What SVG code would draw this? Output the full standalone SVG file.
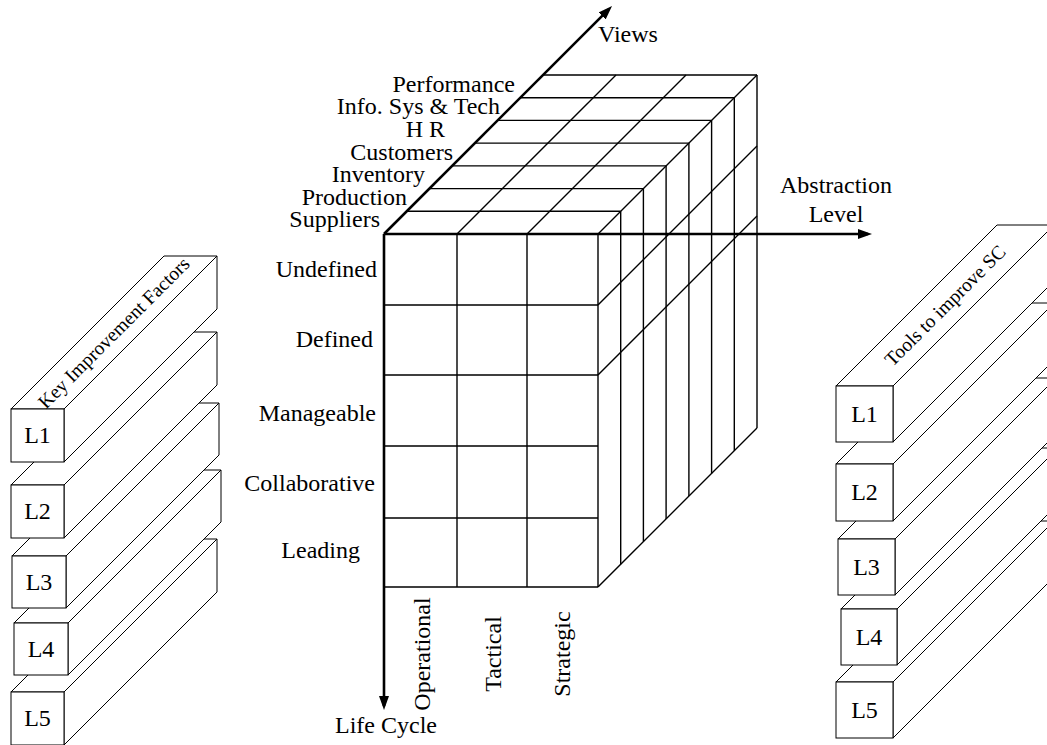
<svg xmlns="http://www.w3.org/2000/svg" width="1047" height="745" viewBox="0 0 1047 745">
  <defs>
    <marker id="arrow" viewBox="0 0 14 10" refX="10" refY="5" markerWidth="14" markerHeight="10" markerUnits="userSpaceOnUse" orient="auto">
      <path d="M0,0 L14,5 L0,10 z" fill="#000"/>
    </marker>
  </defs>
  <style>
    text { font-family: "Liberation Serif", "Times New Roman", serif; font-size: 24px; fill: #000; }
    .grid { stroke: #000; stroke-width: 1.4; fill: none; }
    .axis { stroke: #000; stroke-width: 2.6; fill: none; }
    .face { fill: #fff; stroke: #000; stroke-width: 1; stroke-linejoin: miter; }
    .end { text-anchor: end; }
    .mid { text-anchor: middle; }
    .beamlabel { font-size: 19.5px; }
  </style>

  <rect width="1047" height="745" fill="#fff"/>

  <!-- Left stack: Key Improvement Factors (drawn back to front) -->
  <g id="kif-L5">
    <polygon class="face" points="11,692 164,539 217,539 64,692"/>
    <polygon class="face" points="64,692 217,539 217,592 64,745"/>
    <rect class="face" x="11" y="692" width="53" height="53"/>
    <text class="mid" x="37.5" y="726">L5</text>
  </g>
  <g id="kif-L4">
    <polygon class="face" points="14,623 167,470 221,470 68,623"/>
    <polygon class="face" points="68,623 221,470 221,522 68,675"/>
    <rect class="face" x="14" y="623" width="54" height="52"/>
    <text class="mid" x="41" y="657">L4</text>
  </g>
  <g id="kif-L3">
    <polygon class="face" points="12,556 165,403 219,403 66,556"/>
    <polygon class="face" points="66,556 219,403 219,455 66,608"/>
    <rect class="face" x="12" y="556" width="54" height="52"/>
    <text class="mid" x="39" y="590">L3</text>
  </g>
  <g id="kif-L2">
    <polygon class="face" points="11,485 164,332 217,332 64,485"/>
    <polygon class="face" points="64,485 217,332 217,385 64,538"/>
    <rect class="face" x="11" y="485" width="53" height="53"/>
    <text class="mid" x="37.5" y="519">L2</text>
  </g>
  <g id="kif-L1">
    <polygon class="face" points="11,409 164,256 217,256 64,409"/>
    <polygon class="face" points="64,409 217,256 217,309 64,462"/>
    <rect class="face" x="11" y="409" width="53" height="53"/>
    <text class="mid" x="37.5" y="443">L1</text>
    <text class="mid beamlabel" transform="translate(113.5,332.5) rotate(-45)" y="7">Key Improvement Factors</text>
  </g>

  <!-- Right stack: Tools to improve SC (drawn back to front) -->
  <g id="tools-L5">
    <polygon class="face" points="836,682 997,521 1054,521 893,682"/>
    <polygon class="face" points="893,682 1054,521 1054,577 893,738"/>
    <rect class="face" x="836" y="682" width="57" height="56"/>
    <text class="mid" x="864.5" y="718">L5</text>
  </g>
  <g id="tools-L4">
    <polygon class="face" points="841,609 1002,448 1058,448 897,609"/>
    <polygon class="face" points="897,609 1058,448 1058,504 897,665"/>
    <rect class="face" x="841" y="609" width="56" height="56"/>
    <text class="mid" x="869" y="645">L4</text>
  </g>
  <g id="tools-L3">
    <polygon class="face" points="838,539 999,378 1056,378 895,539"/>
    <polygon class="face" points="895,539 1056,378 1056,434 895,595"/>
    <rect class="face" x="838" y="539" width="57" height="56"/>
    <text class="mid" x="866.5" y="575">L3</text>
  </g>
  <g id="tools-L2">
    <polygon class="face" points="836,464 997,303 1054,303 893,464"/>
    <polygon class="face" points="893,464 1054,303 1054,360 893,521"/>
    <rect class="face" x="836" y="464" width="57" height="57"/>
    <text class="mid" x="864.5" y="500">L2</text>
  </g>
  <g id="tools-L1">
    <polygon class="face" points="836,386 997,225 1054,225 893,386"/>
    <polygon class="face" points="893,386 1054,225 1054,281 893,442"/>
    <rect class="face" x="836" y="386" width="57" height="56"/>
    <text class="mid" x="864.5" y="422">L1</text>
    <text class="mid beamlabel" transform="translate(944.8,305.2) rotate(-45)" y="7">Tools to improve SC</text>
  </g>

  <!-- Cube: front face, top face (views layers) and right face -->
  <g id="cube">
    <!-- front face -->
    <path class="grid" d="M457,234 V587 M527,234 V587 M598,234 V587
                          M384,305 H598 M384,375 H598 M384,446 H598 M384,518 H598 M384,587 H598"/>
    <!-- top face: layer edges -->
    <path class="grid" d="M406.7,211.3 H620.7 M429.4,188.6 H643.4 M452.1,165.9 H666.1
                          M474.9,143.1 H688.9 M497.6,120.4 H711.6 M520.3,97.7 H734.3 M543,75 H757"/>
    <!-- top face: depth lines -->
    <path class="grid" d="M457,234 L616,75 M527,234 L686,75 M598,234 L757,75"/>
    <!-- right face: layer verticals -->
    <path class="grid" d="M620.7,211.3 V564.3 M643.4,188.6 V541.6 M666.1,165.9 V518.9
                          M688.9,143.1 V496.1 M711.6,120.4 V473.4 M734.3,97.7 V450.7 M757,75 V428"/>
    <!-- right face: bottom edge and row lines -->
    <path class="grid" d="M598,587 L757,428 M598,305 L757,146 M598,375 L757,216"/>
  </g>

  <!-- Axes -->
  <g id="connectors">
    <line class="axis" x1="384" y1="234" x2="384" y2="706" marker-end="url(#arrow)"/>
    <line class="axis" x1="384" y1="234" x2="868" y2="234" marker-end="url(#arrow)"/>
    <line class="axis" x1="384" y1="234" x2="609.2" y2="8.8" marker-end="url(#arrow)"/>
  </g>

  <!-- Axis labels -->
  <g id="axis-labels">
    <text x="598" y="42">Views</text>
    <text class="mid" x="836" y="193">Abstraction</text>
    <text class="mid" x="836" y="221.5">Level</text>
    <text class="mid" x="386" y="733">Life Cycle</text>
  </g>

  <!-- View labels -->
  <g id="view-labels">
    <text class="end" x="515" y="91.5">Performance</text>
    <text class="end" x="500" y="114">Info. Sys &amp; Tech</text>
    <text class="end" x="445" y="137">H R</text>
    <text class="end" x="453" y="159.5">Customers</text>
    <text class="end" x="425" y="182">Inventory</text>
    <text class="end" x="407" y="204.5">Production</text>
    <text class="end" x="380" y="227">Suppliers</text>
  </g>

  <!-- Life cycle stage labels -->
  <g id="stage-labels">
    <text class="end" x="377" y="277">Undefined</text>
    <text class="end" x="373" y="347">Defined</text>
    <text class="end" x="376" y="421">Manageable</text>
    <text class="end" x="375" y="491">Collaborative</text>
    <text class="end" x="360" y="558">Leading</text>
  </g>

  <!-- Abstraction level labels -->
  <g id="level-labels">
    <text class="mid" transform="translate(430,654) rotate(-90)">Operational</text>
    <text class="mid" transform="translate(501,654) rotate(-90)">Tactical</text>
    <text class="mid" transform="translate(570,654) rotate(-90)">Strategic</text>
  </g>
</svg>
